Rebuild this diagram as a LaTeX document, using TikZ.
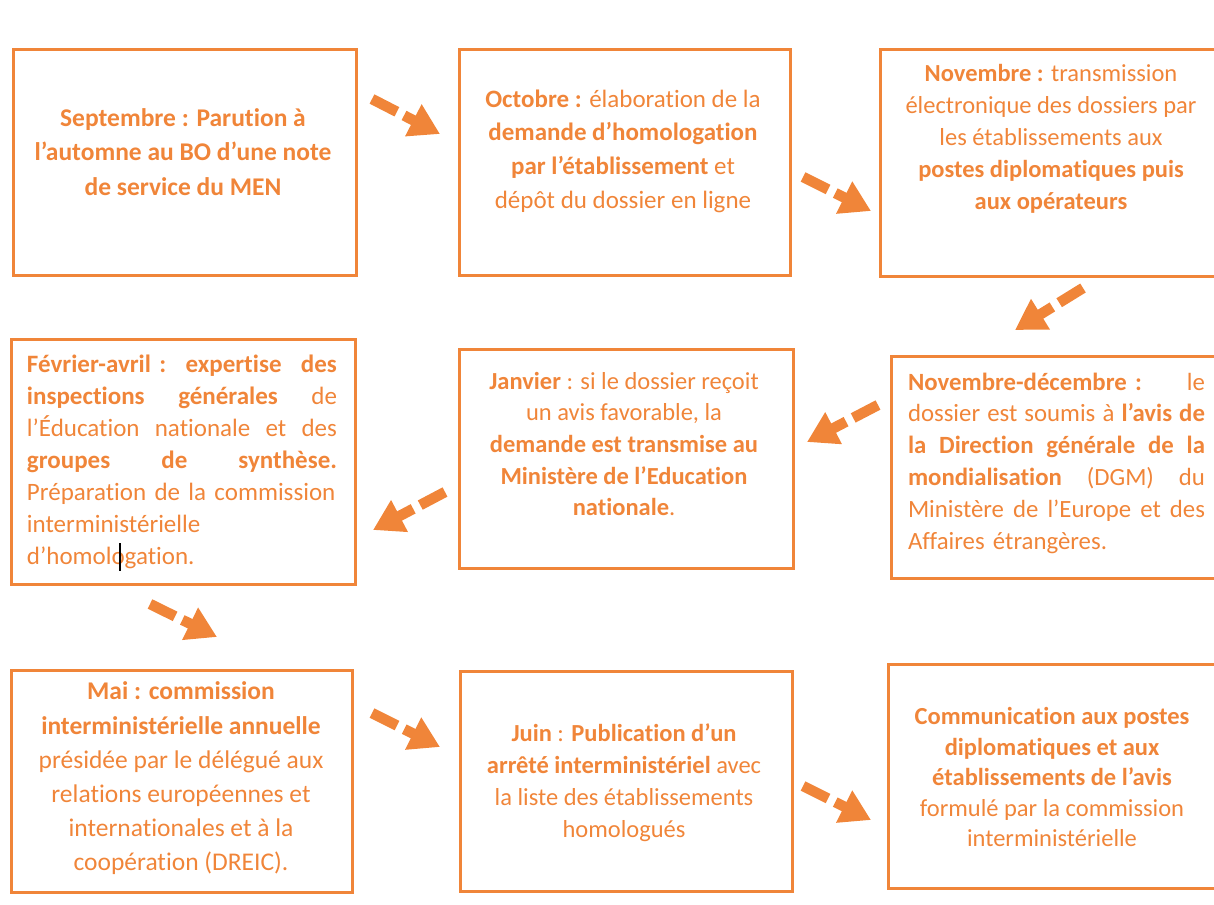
\documentclass[tikz,border=0pt]{standalone}
\usepackage{fontspec}
\setmainfont{Carlito}[Ligatures=NoCommon]
\usetikzlibrary{arrows.meta}
\definecolor{orc}{HTML}{F08539}
\tikzset{
  stepbox/.style={draw=orc, line width=3pt, rectangle, inner sep=0pt, anchor=north west},
  txt/.style={text=orc, inner sep=0pt, align=center},
  jtxt/.style={text=orc, inner sep=0pt, align=left},
  flowarrow/.style={draw=orc, line width=10.5pt, dash pattern=on 28pt off 8pt,
     -{Triangle[length=30pt,width=34pt]}},
}
\newcommand{\fs}[2]{\fontsize{#1}{#2}\selectfont}
\begin{document}
\begin{tikzpicture}[x=1pt,y=-1pt]
\useasboundingbox (0,0) rectangle (1214,904);
\clip (0,0) rectangle (1214,904);
% boxes
\node[stepbox, minimum width=343pt, minimum height=226pt] (A) at (12,48) {};
\node[stepbox, minimum width=331pt, minimum height=226pt] (B) at (458,48) {};
\node[stepbox, minimum width=360pt, minimum height=227pt] (C) at (879,48) {};
\node[stepbox, minimum width=344pt, minimum height=245pt] (D) at (10,338) {};
\node[stepbox, minimum width=334pt, minimum height=219pt] (E) at (458,348) {};
\node[stepbox, minimum width=350pt, minimum height=222pt] (F) at (890,355) {};
\node[stepbox, minimum width=341pt, minimum height=222pt] (G) at (10,669) {};
\node[stepbox, minimum width=332pt, minimum height=220pt] (H) at (459,670) {};
\node[stepbox, minimum width=350pt, minimum height=224pt] (I) at (887,663) {};
% texts
\node[txt, font=\fs{25.5}{34.5}\bfseries] (tA) at (183,152) {Septembre : Parution à\\l’automne au BO d’une note\\de service du MEN};
\node[txt, font=\fs{25}{33.7}] (tB) at (623,151) {\textbf{Octobre :} élaboration de la\\\textbf{demande d’homologation}\\\textbf{par l’établissement} et\\dépôt du dossier en ligne};
\node[txt, font=\fs{24.5}{32}] (tC) at (1051,139) {\textbf{Novembre :} transmission\\électronique des dossiers par\\les établissements aux\\\textbf{postes diplomatiques puis}\\\textbf{aux opérateurs}};
\node[jtxt, font=\fs{25}{32}, text width=310pt] (tD) at (182,462) {\textbf{Février-avril :}\hfill \textbf{expertise}\hfill \textbf{des}\\\textbf{inspections}\hfill \textbf{générales}\hfill de\\l’Éducation\hfill nationale\hfill et\hfill des\\\textbf{groupes}\hfill \textbf{de}\hfill \textbf{synthèse.}\\Préparation de la commission\\interministérielle\\d’homologation.};
\node[txt, font=\fs{24.5}{31.7}] (tE) at (624,444) {\textbf{Janvier} : si le dossier reçoit\\un avis favorable, la\\\textbf{demande est transmise au}\\\textbf{Ministère de l’Education}\\\textbf{nationale}.};
\node[jtxt, font=\fs{24.8}{31.8}, text width=297pt] (tF) at (1056.5,463) {\textbf{Novembre-décembre :}\hfill le\\dossier\hfill est\hfill soumis\hfill à\hfill \textbf{l’avis}\hfill \textbf{de}\\\textbf{la}\hfill \textbf{Direction}\hfill \textbf{générale}\hfill \textbf{de}\hfill \textbf{la}\\\textbf{mondialisation}\hfill (DGM)\hfill du\\Ministère\hfill de\hfill l’Europe\hfill et\hfill des\\Affaires étrangères.};
\node[txt, font=\fs{25.5}{34.2}] (tG) at (181,778.5) {\textbf{Mai : commission}\\\textbf{interministérielle annuelle}\\présidée par le délégué aux\\relations européennes et\\internationales et à la\\coopération (DREIC).};
\node[txt, font=\fs{24.5}{32}] (tH) at (624,783) {\textbf{Juin} : \textbf{Publication d’un}\\\textbf{arrêté interministériel} avec\\la liste des établissements\\homologués};
\node[txt, font=\fs{24.5}{30.5}] (tI) at (1052,777) {\textbf{Communication aux postes}\\\textbf{diplomatiques et aux}\\\textbf{établissements de l’avis}\\formulé par la commission\\interministérielle};
% text cursor
\coordinate (cur1) at (120,543);
\coordinate (cur2) at (120,571);
\draw[black, line width=1.5pt] (cur1) -- (cur2);
% arrow ends
\coordinate (a1s) at (372,99);  \coordinate (a1e) at (440,134);
\coordinate (a2s) at (803,177); \coordinate (a2e) at (871,211);
\coordinate (a3s) at (1083,288); \coordinate (a3e) at (1015,330);
\coordinate (a4s) at (878,405); \coordinate (a4e) at (807,442);
\coordinate (a5s) at (445,492); \coordinate (a5e) at (373,530);
\coordinate (a6s) at (150,604); \coordinate (a6e) at (217,637);
\coordinate (a7s) at (372,713); \coordinate (a7e) at (440,747);
\coordinate (a8s) at (803,786); \coordinate (a8e) at (871,820);
\foreach \i in {1,...,8} \draw[flowarrow] (a\i s) -- (a\i e);
\end{tikzpicture}
\end{document}
